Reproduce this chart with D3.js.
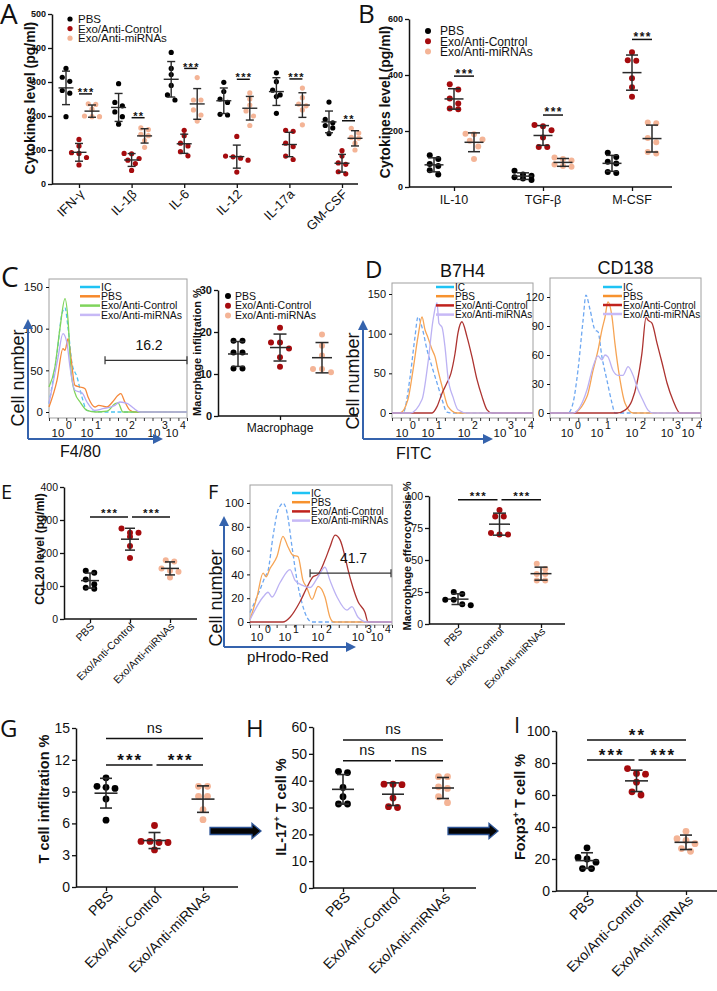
<!DOCTYPE html>
<html>
<head>
<meta charset="utf-8">
<script src="https://cdn.jsdelivr.net/npm/d3@7"></script>
<style>
body { margin: 0; background: #fff; }
svg text { font-family: "Liberation Sans", Arial, Helvetica, sans-serif; fill: #111; }
</style>
</head>
<body>
<script>
// ---------- data ----------
const groups = ["PBS", "Exo/Anti-Control", "Exo/Anti-miRNAs"];
const groupColors = ["#000000", "#a50b0e", "#f4b496"];

// A: pro-inflammatory cytokines (pg/ml), 6 mice per group
const cytoA = ["IFN-γ", "IL-1β", "IL-6", "IL-12", "IL-17a", "GM-CSF"];
const cytoA_PBS = [[340,314,302,275,267,198],[295,240,212,198,176,230],[387,340,322,290,262,247],[299,272,250,240,205,203],[327,301,276,262,257,208],[241,190,180,172,165,148]];
const cytoA_ctrl = [[131,112,92,90,78,56],[90,89,75,70,60,40],[158,142,120,112,95,83],[140,82,80,76,70,35],[158,155,120,110,82,72],[98,82,62,58,36,30]];
const cytoA_mir = [[236,234,220,200,198,198],[165,160,146,142,128,108],[313,247,247,218,203,185],[268,250,232,215,200,172],[282,254,235,230,218,174],[164,150,137,135,120,100]];
const sigA = ["***","**","***","***","***","**"];
const sigA_level = [265,195,340,308,309,186];

// B: anti-inflammatory cytokines (pg/ml)
const cytoB = ["IL-10", "TGF-β", "M-CSF"];
const cytoB_PBS = [[113,100,82,75,60,45],[58,45,40,35,30,25],[122,107,90,84,54,50]];
const cytoB_ctrl = [[367,348,316,298,280,278],[221,217,203,177,143,143],[481,453,451,388,356,322]];
const cytoB_mir = [[190,188,170,165,145,100],[105,100,95,80,75,72],[230,228,175,160,125,120]];
const sigB = ["***","***","***"];
const sigB_level = [396,257,527];

// C/D/F flow histograms: [axis position %, cell number]
const histNames = ["IC", "PBS", "Exo/Anti-Control", "Exo/Anti-miRNAs"];
const decadeExp = ["0", "1", "2", "3", "4"];
const f480_IC = [[0,10],[5.8,70],[9.4,118],[11.6,125],[13.8,101],[16.7,58],[20.3,42],[23.9,18],[27.5,2],[40,0],[100,0]];
const f480_PBS = [[0,6],[5.8,38],[10.1,76],[11.6,74],[13.8,88],[15.9,65],[18.8,32],[22.5,30],[26.1,28],[28.3,18],[33.3,6],[36,8],[42,6],[46,12],[50,20],[52,22],[55,12],[58.7,2],[62,0],[100,0]];
const f480_ctrl = [[0,30],[4.3,54],[8,101],[11.6,136],[13.8,110],[15.9,50],[18.8,23],[22.5,12],[27.5,2],[34,0],[42,1],[48,10],[50,11],[53.6,0],[100,0]];
const f480_mir = [[0,10],[6.5,65],[10.1,94],[13,83],[15.2,54],[18.8,26],[23.9,23],[27.5,12],[33,2],[39,4],[47.8,8],[51.4,12],[57,10],[60.9,5],[65.9,0],[100,0]];
const f480_decades = [6.5, 27.5, 52.2, 76.1, 89.1];
const f480_gate = [40.6, 100, 62, "16.2"];

const b7h4_IC = [[0,0],[7.8,0],[12.8,45],[16.3,96],[18.4,121],[21.3,108],[24.8,80],[28.4,58],[31.9,38],[35.5,17],[39,1],[42,0],[100,0]];
const b7h4_PBS = [[0,0],[5.7,0],[11.3,17],[14.9,54],[18.4,96],[21.3,121],[23.4,105],[25.5,95],[28.4,80],[30.5,71],[32.6,54],[36.2,29],[39.7,8],[46.1,0],[100,0]];
const b7h4_ctrl = [[0,0],[19.9,0],[28.4,0],[31.9,8],[35.5,25],[39,38],[41.8,50],[44.7,75],[46.8,101],[49.6,115],[53.2,96],[56.7,71],[60.3,42],[63.8,21],[67.4,4],[70.9,0],[100,0]];
const b7h4_mir = [[0,0],[12.8,0],[21.3,17],[25.5,63],[29.1,117],[31.9,139],[33.3,113],[35.5,108],[37.6,83],[39.7,45],[43.3,20],[46.8,4],[53.2,0],[100,0]];
const b7h4_decades = [7.1, 25.5, 51.1, 76.6, 90.8];

const cd138_IC = [[0,0],[11.9,0],[15.2,10],[18.5,44],[21.9,96],[23.8,122],[26.5,107],[29.8,86],[31.8,84],[34.4,58],[37.7,34],[41.1,10],[43,0],[100,0]];
const cd138_PBS = [[0,0],[15.2,0],[24.5,17],[28.5,44],[31.8,65],[34.4,86],[36.4,99],[38.4,115],[41.1,99],[43,72],[46.4,34],[49.7,10],[55,0],[100,0]];
const cd138_ctrl = [[0,0],[44.4,0],[49.7,3],[54.3,13],[57.6,31],[60.9,62],[63.6,99],[64.9,96],[67.5,93],[70.9,72],[74.2,52],[77.5,31],[81.5,13],[86.1,0],[100,0]];
const cd138_mir = [[0,0],[15.2,0],[24.5,24],[28.5,48],[31.8,59],[34.4,55],[36.4,60],[38.4,58],[41.7,44],[45,39],[48.3,39],[51.7,48],[55,39],[58.3,24],[61.6,13],[64.9,3],[68.2,0],[100,0]];
const cd138_decades = [11.3, 31.1, 54.3, 77.5, 91.4];

const phr_IC = [[0,8],[7,27],[10.6,38],[12.7,43],[16.2,72],[19.7,94],[21.5,98],[23.2,100],[26.1,92],[29.6,63],[33.1,35],[36.6,16],[40.1,4],[43.7,0],[100,0]];
const phr_PBS = [[0,2],[4.9,21],[9.2,41],[11.3,38],[14.1,45],[19,55],[23.2,72],[26.8,63],[30.3,56],[33.8,55],[37.3,35],[40,29],[43.7,19],[47.9,30],[52.8,21],[56.3,4],[59,0],[100,0]];
const phr_ctrl = [[0,0],[23.2,0],[28.2,4],[35.2,17],[40.1,29],[44.4,38],[47.9,40],[52.8,52],[56.3,63],[59.9,73],[63.4,69],[66.9,55],[69,44],[72.5,29],[76.1,17],[81,8],[83.1,0],[100,0]];
const phr_mir = [[0,2],[9.2,21],[12.7,25],[15.5,21],[21.1,33],[28.2,44],[31.7,35],[36.6,31],[42.3,29],[47.9,38],[52.8,46],[56.3,35],[61.3,21],[68.3,10],[71.8,13],[76.1,4],[82.4,0],[100,0]];
const phr_decades = [4.9, 24.6, 47.9, 76.1, 89.4];
const phr_gate = [42.3, 99.3, 41, "41.7"];

// C: macrophage infiltration %
const macInfil = [[17.9,17.9,15.1,15.1,11.3,11.3],[21,17.5,17.5,16.1,14,11.7],[19.4,16.7,14.4,11.2,11.2,10.4]];
// E: CCL20 (pg/ml)
const ccl20 = [[146,140,120,105,95,92],[274,261,261,249,221,185],[178,174,153,146,143,126]];
const sigE = [[0,1,309,"***"],[1,2,309,"***"]];
// F: macrophage efferocytosis %
const effero = [[25,23.5,19,19,15.4,14.6],[89,84,84,71,70,70],[47,43,39,39,34,34]];
const sigF = [[0,1,97,"***"],[1,2,97,"***"]];
// G: T cell infiltration %
const tcell = [[10.3,9.4,9.5,9.3,8.3,6.3],[5.8,4.3,4.3,4.2,4.2,3.5],[9.5,9.5,8.55,8.55,7.3,6.35]];
const sigG = [[0,2,14,"ns"],[0,1,11.5,"***"],[1,2,11.5,"***"]];
// H: IL-17+ T cell %
const il17 = [[43.5,43,37.5,34,31.3,31.3],[38.7,38.7,38.5,33.5,30,30.3],[41.5,41.5,37.7,37.1,34,31.8]];
const sigH = [[0,2,55.2,"ns"],[0,1,47.4,"ns"],[1,2,47.4,"ns"]];
// I: Foxp3+ T cell %
const foxp3 = [[27,21,20,18,14,14],[76.5,73.5,73,68,62,60],[37.3,32.7,31.7,29.6,24.8,26.5]];
const sigI = [[0,2,94.4,"**"],[0,1,81.9,"***"],[1,2,81.9,"***"]];

// ---------- drawing ----------
const LETTER_FONT = '"Open Sans", "Noto Sans", sans-serif';
const BLUE = "#3563ad";
const svg = d3.select("body").append("svg").attr("width", 717).attr("height", 991);
svg.append("rect").attr("width", 717).attr("height", 991).attr("fill", "#fff");

const defs = svg.append("defs");
defs.append("marker").attr("id", "bluehead").attr("viewBox", "0 0 10 10")
    .attr("refX", 8).attr("refY", 5).attr("markerWidth", 5).attr("markerHeight", 5)
    .attr("orient", "auto")
  .append("path").attr("d", "M0,0L10,5L0,10z").attr("fill", BLUE);

function styleAxis(a, fs, bold) {
    a.attr("font-family", null).attr("font-size", fs).attr("font-weight", bold ? "bold" : null);
    a.selectAll("text").attr("fill", "#111");
    a.selectAll("line").attr("stroke", "#111").attr("stroke-width", 1.3);
    a.select(".domain").attr("stroke", "#111").attr("stroke-width", 1.5);
}

function letter(t, x, y, fs) {
    svg.append("text").attr("x", x).attr("y", y).attr("font-size", fs)
        .style("font-family", LETTER_FONT).text(t);
}

function yLabel(x, y, fs, parts) {
    // parts: [text, superscript?, dy]
    const t = svg.append("text").attr("transform", `translate(${x},${y}) rotate(-90)`)
        .attr("text-anchor", "middle").attr("font-size", fs).attr("font-weight", "bold");
    parts.forEach(p => {
        if (p[1]) t.append("tspan").attr("dy", -fs*0.4).attr("font-size", fs*0.65).text(p[0]);
        else t.append("tspan").attr("dy", p[2] || 0).text(p[0]);
    });
    return t;
}

// spread points that sit on the same level side by side
function swarm(vals, y, r, step) {
    const pts = vals.map(v => ({v: v, py: y(v)})).sort((a, b) => a.py - b.py);
    const rows = [];
    pts.forEach(p => {
        const last = rows[rows.length - 1];
        if (last && p.py - last[0].py < 2*r) last.push(p); else rows.push([p]);
    });
    rows.forEach(row => row.forEach((p, i) => p.dx = (i - (row.length - 1)/2) * step));
    return pts;
}

function drawGroup(g, vals, cx, y, color, o) {
    g.selectAll(null).data(swarm(vals, y, o.r, o.step)).enter().append("circle")
        .attr("cx", d => cx + d.dx).attr("cy", d => d.py).attr("r", o.r).attr("fill", color);
    const m = d3.mean(vals), sd = d3.deviation(vals);
    const lc = "#2a2a2a";
    const ln = (x1, x2, y1, y2) => g.append("line").attr("x1", x1).attr("x2", x2).attr("y1", y1).attr("y2", y2)
        .attr("stroke", lc).attr("stroke-width", o.lw || 1.5);
    ln(cx, cx, y(m - sd), y(m + sd));
    ln(cx - o.capW/2, cx + o.capW/2, y(m - sd), y(m - sd));
    ln(cx - o.capW/2, cx + o.capW/2, y(m + sd), y(m + sd));
    ln(cx - o.meanW/2, cx + o.meanW/2, y(m), y(m));
}

function sigBar(g, xa, xb, yb, label, fs, starShift) {
    g.append("line").attr("x1", xa).attr("x2", xb).attr("y1", yb).attr("y2", yb)
        .attr("stroke", "#111").attr("stroke-width", 1.5);
    const star = label.indexOf("*") >= 0;
    g.append("text").attr("x", (xa + xb)/2 + (star ? fs*0.06 : 0))
        .attr("y", star ? yb + fs*starShift : yb - fs*0.38)
        .attr("text-anchor", "middle").attr("font-size", fs)
        .attr("font-weight", star ? "bold" : null)
        .attr("letter-spacing", star ? fs*0.12 : null).text(label);
}

function dotLegend(x, y0, dy, fs, r, gap) {
    groups.forEach((name, k) => {
        svg.append("circle").attr("cx", x).attr("cy", y0 + k*dy).attr("r", r).attr("fill", groupColors[k]);
        svg.append("text").attr("x", x + gap).attr("y", y0 + k*dy).attr("dy", "0.35em")
            .attr("font-size", fs).text(name);
    });
}

// cytokine panels (A, B): categories, each with the 3 groups side by side
function cytoPanel(o) {
    const g = svg.append("g");
    const x = d3.scalePoint().domain(o.cats).range([o.c0, o.c1]);
    const off = d3.scalePoint().domain(groups).range([-o.spread, o.spread]);
    const y = d3.scaleLinear().domain([0, o.max]).range([o.yb, o.yt]);
    const ya = g.append("g").attr("transform", `translate(${o.x0},0)`)
        .call(d3.axisLeft(y).tickValues(o.ticks).tickSize(4).tickSizeOuter(0).tickPadding(2));
    styleAxis(ya, o.tickFs, true);
    const xa = g.append("g").attr("transform", `translate(0,${o.yb})`)
        .call(d3.axisBottom(x).tickSize(4).tickSizeOuter(0).tickFormat(""));
    styleAxis(xa, 10, false);
    xa.select(".domain").attr("d", `M${o.x0},0H${o.x1}`);
    o.cats.forEach((c, i) => {
        o.series.forEach((s, k) => drawGroup(g, s[i], x(c) + off(groups[k]), y, groupColors[k], o));
        sigBar(g, x(c) + off(groups[1]), x(c) + off(groups[2]), y(o.sigLevel[i]), o.sig[i], o.sigFs, o.starShift);
        if (o.rotate) {
            g.append("text").attr("transform", `translate(${x(c) + 6},${o.yb + 11}) rotate(-45)`)
                .attr("text-anchor", "end").attr("font-size", o.labFs).text(c);
        } else {
            g.append("text").attr("x", x(c)).attr("y", o.yb + 17).attr("text-anchor", "middle")
                .attr("font-size", o.labFs).text(c);
        }
    });
}

// one-category dot plots (C right, E, F right, G, H, I)
function dotPanel(o) {
    const g = svg.append("g");
    const x = d3.scalePoint().domain(groups).range([o.c0, o.c1]);
    const y = d3.scaleLinear().domain([0, o.max]).range([o.yb, o.yt]);
    const ya = g.append("g").attr("transform", `translate(${o.x0},0)`)
        .call(d3.axisLeft(y).tickValues(o.ticks).tickSize(4).tickSizeOuter(0).tickPadding(2));
    styleAxis(ya, o.tickFs, o.tickBold);
    const xa = g.append("g").attr("transform", `translate(0,${o.yb})`)
        .call(d3.axisBottom(x).tickValues(o.xTicks || groups).tickSize(4).tickSizeOuter(0).tickFormat(""));
    styleAxis(xa, 10, false);
    xa.select(".domain").attr("d", `M${o.x0},0H${o.x1}`);
    o.data.forEach((vals, k) => drawGroup(g, vals, x(groups[k]), y, groupColors[k], o));
    (o.sig || []).forEach(s => {
        const xa1 = x(groups[s[0]]) + (s[0] === 1 ? 2 : 0);
        const xb1 = x(groups[s[1]]) - (s[1] === 1 ? 2 : 0);
        sigBar(g, xa1, xb1, y(s[2]), s[3], s[3] === "ns" ? o.nsFs : o.sigFs, o.starShift);
    });
    if (o.labFs) {
        groups.forEach(name => {
            g.append("text").attr("transform", `translate(${x(name) + o.labDx},${o.yb + o.labDy}) rotate(-45)`)
                .attr("text-anchor", "end").attr("font-size", o.labFs).text(name);
        });
    }
    return {x: x, y: y};
}

// flow cytometry overlay histograms
function histPanel(o) {
    const g = svg.append("g");
    const x = d3.scaleLinear().domain([0, 100]).range([o.left, o.right]);
    const y = d3.scaleLinear().domain([0, o.ymax]).range([o.y0, o.y1]);
    g.append("rect").attr("x", o.left).attr("y", o.top).attr("width", o.right - o.left)
        .attr("height", o.bottom - o.top).attr("fill", "none").attr("stroke", "#a0a0a0").attr("stroke-width", 1);
    const ya = g.append("g").attr("transform", `translate(${o.left},0)`)
        .call(d3.axisLeft(y).tickValues(o.yticks).tickSize(3).tickSizeOuter(0).tickPadding(3));
    styleAxis(ya, o.tickFs, false);
    ya.select(".domain").remove();
    ya.selectAll("line").attr("stroke-width", 1);
    const xa = g.append("g").attr("transform", `translate(0,${o.bottom})`)
        .call(d3.axisBottom(x).tickValues(d3.range(0, 100.1, 100/16)).tickSize(3).tickFormat(""));
    xa.select(".domain").remove();
    xa.selectAll("line").attr("stroke", "#333").attr("stroke-width", 1);
    o.decades.forEach((p, i) => {
        g.append("text").attr("x", x(p)).attr("y", o.labY).attr("text-anchor", "middle")
            .attr("font-size", 11.5).text("10");
        g.append("text").attr("x", x(p) + 8).attr("y", o.labY - 8).attr("font-size", 10.5).text(decadeExp[i]);
    });
    const line = d3.line().x(d => x(d[0])).y(d => y(d[1])).curve(d3.curveMonotoneX);
    o.curves.forEach(c => {
        g.append("path").attr("d", line(c.pts)).attr("fill", "none").attr("stroke", c.color)
            .attr("stroke-width", 1.3).attr("stroke-dasharray", c.dash ? "4,2.5" : null);
    });
    if (o.gate) {
        const gy = y(o.gate[2]);
        g.append("line").attr("x1", x(o.gate[0])).attr("x2", x(o.gate[1])).attr("y1", gy).attr("y2", gy)
            .attr("stroke", "#333").attr("stroke-width", 1.2);
        [o.gate[0], o.gate[1]].forEach(p => g.append("line").attr("x1", x(p)).attr("x2", x(p))
            .attr("y1", gy - 4).attr("y2", gy + 4).attr("stroke", "#333").attr("stroke-width", 1.2));
        g.append("text").attr("x", (x(o.gate[0]) + x(o.gate[1]))/2 + 3).attr("y", gy - 10)
            .attr("text-anchor", "middle").attr("font-size", 14).attr("fill", "#333").text(o.gate[3]);
    }
    o.curves.forEach((c, k) => {
        const ly = o.legY + k*o.legDy;
        g.append("line").attr("x1", o.legX).attr("x2", o.legX + o.legW).attr("y1", ly).attr("y2", ly)
            .attr("stroke", c.legColor).attr("stroke-width", 2.5);
        g.append("text").attr("x", o.legX + o.legW + 1).attr("y", ly).attr("dy", "0.35em")
            .attr("font-size", o.legFs).text(histNames[k]);
    });
    if (o.title) {
        g.append("text").attr("x", (o.left + o.right)/2).attr("y", o.titleY).attr("text-anchor", "middle")
            .attr("font-size", 18).text(o.title);
    }
}

function blueAxes(x0, y0, yTop, xRight, xLabel, labelX, labelY, labelFs, cnX, cnY) {
    svg.append("line").attr("x1", x0).attr("y1", y0).attr("x2", x0).attr("y2", yTop)
        .attr("stroke", BLUE).attr("stroke-width", 2).attr("marker-end", "url(#bluehead)");
    svg.append("line").attr("x1", x0).attr("y1", y0).attr("x2", xRight).attr("y2", y0)
        .attr("stroke", BLUE).attr("stroke-width", 2).attr("marker-end", "url(#bluehead)");
    svg.append("text").attr("x", labelX).attr("y", labelY).attr("font-size", labelFs).text(xLabel);
    svg.append("text").attr("transform", `translate(${cnX},${cnY}) rotate(-90)`)
        .attr("text-anchor", "middle").attr("font-size", 18).text("Cell number");
}

function bigArrow(x0, x1, yc) {
    const p = d3.path();
    p.moveTo(x0, yc - 3.5); p.lineTo(x1 - 9, yc - 3.5); p.lineTo(x1 - 9, yc - 7.5);
    p.lineTo(x1, yc); p.lineTo(x1 - 9, yc + 7.5); p.lineTo(x1 - 9, yc + 3.5);
    p.lineTo(x0, yc + 3.5); p.closePath();
    svg.append("path").attr("d", p.toString()).attr("fill", "#050505")
        .attr("stroke", "#2e5597").attr("stroke-width", 1.3);
}

// ---- A ----
cytoPanel({cats: cytoA, series: [cytoA_PBS, cytoA_ctrl, cytoA_mir], x0: 52, x1: 358, c0: 79, c1: 342,
    spread: 13, yb: 184, yt: 14, max: 500, ticks: [0,100,200,300,400,500], tickFs: 9,
    r: 2.6, step: 7.5, meanW: 15, capW: 8, lw: 1.4, sig: sigA, sigLevel: sigA_level, sigFs: 11, starShift: 0.2,
    rotate: true, labFs: 13});
dotLegend(70, 19, 9.6, 11.5, 2.6, 8);
yLabel(35, 98, 14, [["Cytokines level (pg/ml)"]]);
letter("A", 0, 24, 28);

// ---- B ----
cytoPanel({cats: cytoB, series: [cytoB_PBS, cytoB_ctrl, cytoB_mir], x0: 409, x1: 672, c0: 454, c1: 632,
    spread: 20, yb: 187, yt: 19, max: 600, ticks: [0,200,400,600], tickFs: 9,
    r: 3, step: 8.5, meanW: 19, capW: 12, lw: 1.5, sig: sigB, sigLevel: sigB_level, sigFs: 12, starShift: 0.12,
    rotate: false, labFs: 12.5});
dotLegend(428, 31, 10.3, 12, 3, 12);
yLabel(390, 102, 14, [["Cytokines level (pg/ml)"]]);
letter("B", 358, 23, 26);

// ---- C ----
histPanel({left: 49, right: 187, top: 279, bottom: 418, y0: 412, y1: 287, ymax: 150,
    yticks: [0,50,100,150], tickFs: 11.5, decades: f480_decades, labY: 437,
    curves: [
        {pts: f480_IC, color: "#4cc3ef", legColor: "#1fc3f4", dash: true},
        {pts: f480_PBS, color: "#f5883a", legColor: "#f7882a"},
        {pts: f480_ctrl, color: "#7fd45c", legColor: "#7fd45c"},
        {pts: f480_mir, color: "#b7aaf5", legColor: "#c7b9f6"}],
    gate: f480_gate, legX: 80, legW: 20, legY: 287, legDy: 9.3, legFs: 10.5});
blueAxes(28, 439, 321, 161, "F4/80", 60, 457, 16, 24, 378);
letter("C", 1, 287, 28);

dotPanel({data: macInfil, x0: 218, x1: 358, c0: 238, c1: 322, yb: 416, yt: 290, max: 30,
    ticks: [0,10,20,30], tickFs: 11, tickBold: true, xTicks: [groups[1]],
    r: 3, step: 9, meanW: 20, capW: 13, lw: 1.5});
dotLegend(228, 296, 9.8, 10.5, 3, 7);
yLabel(201, 352, 11, [["Macrphage infiltration %"]]);
svg.append("text").attr("x", 280).attr("y", 432).attr("text-anchor", "middle").attr("font-size", 12).text("Macrophage");

// ---- D ----
histPanel({left: 392, right: 533, top: 283, bottom: 418, y0: 413, y1: 294, ymax: 150,
    yticks: [0,50,100,150], tickFs: 11, decades: b7h4_decades, labY: 437,
    curves: [
        {pts: b7h4_IC, color: "#6ea8f2", legColor: "#1fc3f4", dash: true},
        {pts: b7h4_PBS, color: "#f6a454", legColor: "#f7922e"},
        {pts: b7h4_ctrl, color: "#ad3330", legColor: "#c0221d"},
        {pts: b7h4_mir, color: "#bcb2f3", legColor: "#c7b9f6"}],
    legX: 436, legW: 18, legY: 287, legDy: 9.2, legFs: 10, title: "B7H4", titleY: 277});
histPanel({left: 550, right: 701, top: 278, bottom: 418, y0: 413, y1: 297, ymax: 120,
    yticks: [0,30,60,90,120], tickFs: 11, decades: cd138_decades, labY: 437,
    curves: [
        {pts: cd138_IC, color: "#6ea8f2", legColor: "#1fc3f4", dash: true},
        {pts: cd138_PBS, color: "#f6a454", legColor: "#f7922e"},
        {pts: cd138_ctrl, color: "#ad3330", legColor: "#c0221d"},
        {pts: cd138_mir, color: "#bcb2f3", legColor: "#c7b9f6"}],
    legX: 603, legW: 19, legY: 287, legDy: 9, legFs: 10, title: "CD138", titleY: 274});
blueAxes(363, 439, 322, 491, "FITC", 396, 459, 16, 359, 381);
letter("D", 365, 278, 24);

// ---- E ----
dotPanel({data: ccl20, x0: 64, x1: 197, c0: 90, c1: 170, yb: 619, yt: 487, max: 400,
    ticks: [0,100,200,300,400], tickFs: 10.5, tickBold: false,
    r: 3, step: 8.5, meanW: 18, capW: 10, lw: 1.5, sig: sigE, sigFs: 11.5, starShift: 0.02,
    labFs: 10.5, labDx: 5, labDy: 8});
yLabel(44, 549, 12, [["CCL20 level (pg/ml)"]]);
letter("E", 1, 499, 20);

// ---- F ----
histPanel({left: 250, right: 392, top: 485, bottom: 625, y0: 622, y1: 503, ymax: 100,
    yticks: [0,20,40,60,80,100], tickFs: 11.5, decades: phr_decades, labY: 641,
    curves: [
        {pts: phr_IC, color: "#6ea8f2", legColor: "#1fc3f4", dash: true},
        {pts: phr_PBS, color: "#f6a454", legColor: "#f7922e"},
        {pts: phr_ctrl, color: "#ad3330", legColor: "#c0221d"},
        {pts: phr_mir, color: "#bcb2f3", legColor: "#c7b9f6"}],
    gate: phr_gate, legX: 292, legW: 18, legY: 493, legDy: 9.2, legFs: 10});
blueAxes(224, 647, 518, 354, "pHrodo-Red", 247, 662, 15, 222, 598);
letter("F", 208, 499, 20);

dotPanel({data: effero, x0: 429, x1: 565, c0: 458, c1: 541, yb: 624, yt: 496, max: 100,
    ticks: [0,25,50,75,100], tickFs: 10.5, tickBold: false,
    r: 3, step: 8.5, meanW: 21, capW: 13, lw: 1.5, sig: sigF, sigFs: 11.5, starShift: 0.02,
    labFs: 10.5, labDx: 5, labDy: 8});
yLabel(411, 556, 11, [["Macrophage efferocytosis %"]]);

// ---- G ----
dotPanel({data: tcell, x0: 76, x1: 238, c0: 106, c1: 203, yb: 887, yt: 728, max: 15,
    ticks: [0,3,6,9,12,15], tickFs: 14, tickBold: false,
    r: 3.4, step: 9, meanW: 23, capW: 12, lw: 1.6, sig: sigG, sigFs: 17, nsFs: 14.5, starShift: 0.06,
    labFs: 14, labDx: 8, labDy: 10});
yLabel(49, 799, 14.5, [["T cell infiltration %"]]);
letter("G", 0, 737, 24);
bigArrow(210, 261, 831);

// ---- H ----
dotPanel({data: il17, x0: 313, x1: 476, c0: 343, c1: 443, yb: 888, yt: 727, max: 60,
    ticks: [0,10,20,30,40,50,60], tickFs: 14, tickBold: false,
    r: 3.4, step: 9, meanW: 22, capW: 12, lw: 1.6, sig: sigH, sigFs: 17, nsFs: 14.5, starShift: 0.06,
    labFs: 14, labDx: 8, labDy: 10});
yLabel(286, 807, 14.5, [["IL-17"], ["+", true], [" T cell %", false, 14.5*0.4]]);
letter("H", 246, 737, 24);
bigArrow(448, 498, 831);

// ---- I ----
dotPanel({data: foxp3, x0: 556, x1: 717, c0: 587, c1: 686, yb: 891, yt: 731, max: 100,
    ticks: [0,20,40,60,80,100], tickFs: 14, tickBold: false,
    r: 3.4, step: 9, meanW: 23, capW: 12, lw: 1.6, sig: sigI, sigFs: 17, nsFs: 14.5, starShift: 0.06,
    labFs: 14, labDx: 8, labDy: 10});
yLabel(525, 807, 14.5, [["Foxp3"], ["+", true], [" T cell %", false, 14.5*0.4]]);
letter("I", 514, 733, 22);
</script>
</body>
</html>
